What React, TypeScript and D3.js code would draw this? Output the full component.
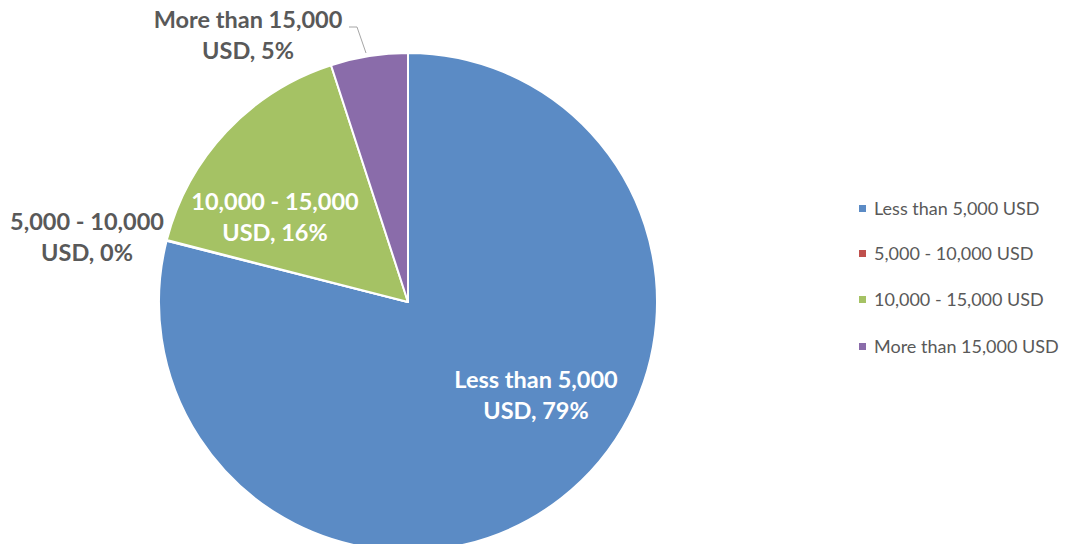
import React from "react";
import * as d3 from "d3";

const categories = ["Less than 5,000 USD", "5,000 - 10,000 USD", "10,000 - 15,000 USD", "More than 15,000 USD"];
const values = [78.95, 0.05, 16, 5];
const colors = ["#5B8BC5", "#C0504D", "#A5C264", "#8A6CAA"];
const labelLines = [
  ["Less than 5,000", "USD, "],
  ["5,000 - 10,000", "USD, "],
  ["10,000 - 15,000", "USD, "],
  ["More than 15,000", "USD, "],
];

export default function App() {
  const W = 1075, H = 552;
  const cx = 408, cy = 302, r = 249;
  const total = d3.sum(values);
  const pie = d3.pie<number>().sort(null).value((d) => d)(values);
  const arc = d3.arc<d3.PieArcDatum<number>>().innerRadius(0).outerRadius(r);

  const labelPos = [
    { x: 536, y: 388, fill: "#FFFFFF" },
    { x: 87, y: 230, fill: "#595959" },
    { x: 275, y: 210, fill: "#FFFFFF" },
    { x: 248, y: 28, fill: "#595959" },
  ];

  const legendY = [215, 260, 306, 353];

  return (
    <div style={{ margin: -8 }}>
      <svg width={W} height={H} style={{ display: "block", background: "#fff" }}>
        <g transform={`translate(${cx},${cy})`}>
          {pie.map((p, i) => (
            <path key={i} d={arc(p) || ""} fill={colors[i]} stroke="#fff" strokeWidth={2} strokeLinejoin="round" />
          ))}
        </g>
        <polyline points="349,27 357,27 366,53" fill="none" stroke="#A6A6A6" strokeWidth={1} />
        {labelPos.map((lp, i) => (
          <text key={i} x={lp.x} textAnchor="middle" fontFamily="Lato, 'Open Sans', sans-serif" fontWeight="bold" fontSize={23.5} fill={lp.fill}>
            <tspan x={lp.x} y={lp.y}>{labelLines[i][0]}</tspan>
            <tspan x={lp.x} y={lp.y + 31}>{labelLines[i][1] + Math.round((values[i] / total) * 100) + "%"}</tspan>
          </text>
        ))}
        {categories.map((c, i) => (
          <g key={c}>
            <rect x={859} y={legendY[i] - 10} width={7} height={7} fill={colors[i]} />
            <text x={874} y={legendY[i]} fontFamily="Lato, 'Open Sans', sans-serif" fontSize={18} fill="#595959">{c}</text>
          </g>
        ))}
      </svg>
    </div>
  );
}
